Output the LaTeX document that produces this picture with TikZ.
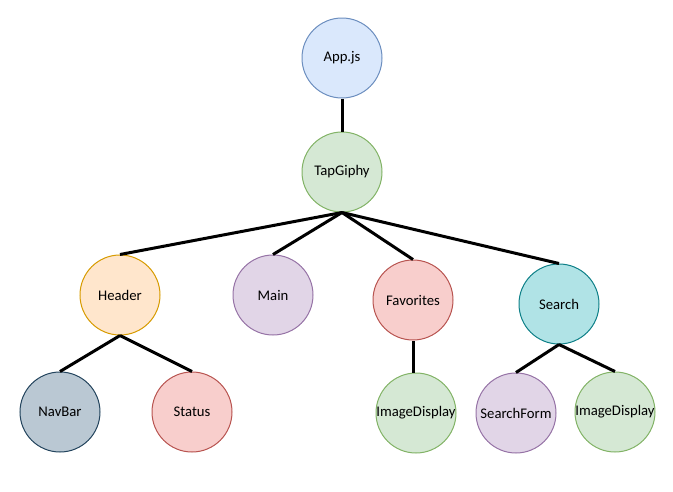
\documentclass[tikz,border=0pt]{standalone}
\usepackage{fontspec}
\setmainfont{Carlito}
\usetikzlibrary{positioning}
\definecolor{appfill}{HTML}{DAE8FC}
\definecolor{appdraw}{HTML}{6C8EBF}
\definecolor{greenfill}{HTML}{D5E8D4}
\definecolor{greendraw}{HTML}{82B366}
\definecolor{orangefill}{HTML}{FFE6CC}
\definecolor{orangedraw}{HTML}{D79B00}
\definecolor{purplefill}{HTML}{E1D5E7}
\definecolor{purpledraw}{HTML}{9673A6}
\definecolor{redfill}{HTML}{F8CECC}
\definecolor{reddraw}{HTML}{B85450}
\definecolor{tealfill}{HTML}{B0E3E6}
\definecolor{tealdraw}{HTML}{0E8088}
\definecolor{slatefill}{HTML}{BAC8D3}
\definecolor{slatedraw}{HTML}{23445D}
\newcommand{\wide}[1]{\makebox[0pt]{#1}}

\begin{document}
\begin{tikzpicture}[x=1pt,y=-1pt,
    comp/.style={circle,draw,line width=1pt,minimum size=80pt,inner sep=0pt,
      font=\fontsize{14.7}{17}\selectfont},
    link/.style={line width=3pt}]
    \useasboundingbox (0,0) rectangle (673,491);
    % top of the tree
    \node[comp,fill=appfill,draw=appdraw] (app) at (342,58) {App.js};
    \node[comp,fill=greenfill,draw=greendraw] (tap) at (342,172) {TapGiphy};
    % second row
    \node[comp,fill=orangefill,draw=orangedraw] (header) at (120,295) {Header};
    \node[comp,fill=purplefill,draw=purpledraw] (main) at (273,295) {Main};
    \node[comp,fill=redfill,draw=reddraw] (fav) at (413,300) {Favorites};
    \node[comp,fill=tealfill,draw=tealdraw] (search) at (559,304) {Search};
    % leaves
    \node[comp,fill=slatefill,draw=slatedraw] (navbar) at (60,412) {NavBar};
    \node[comp,fill=redfill,draw=reddraw] (status) at (192,412) {Status};
    \node[comp,fill=greenfill,draw=greendraw] (favimg) at (416,413) {\wide{ImageDisplay}};
    \node[comp,fill=purplefill,draw=purpledraw] (form) at (516,413) {SearchForm};
    \node[comp,fill=greenfill,draw=greendraw] (searchimg) at (615,412) {\wide{ImageDisplay}};
    % links
    \draw[link] (app.south) -- (tap.north);
    \foreach \c in {header,main,fav,search}
      \draw[link] (tap.south) -- (\c.north);
    \draw[link] (header.south) -- (navbar.north);
    \draw[link] (header.south) -- (status.north);
    \draw[link] (fav.south) -- (fav.south |- favimg.north);
    \draw[link] (search.south) -- (form.north);
    \draw[link] (search.south) -- (searchimg.north);
\end{tikzpicture}
\end{document}
